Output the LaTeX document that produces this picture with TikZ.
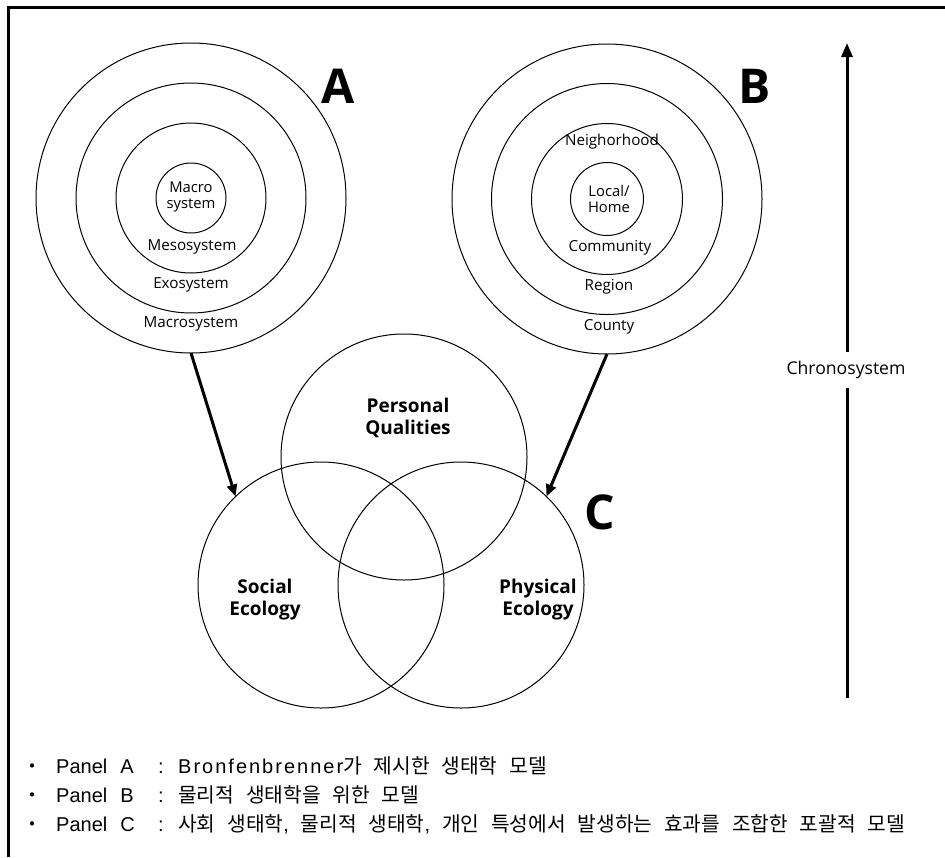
\documentclass[tikz,border=0pt]{standalone}
\usepackage{fontspec}
\setmainfont{Open Sans}
\newfontfamily\kr[WordSpace=2.6]{Noto Sans CJK KR}
\newfontfamily\lat{Liberation Sans}
\newfontfamily\latsp[LetterSpace=10]{Liberation Sans}
\usetikzlibrary{arrows.meta}
\newcommand{\latw}[1]{{\lat\fontsize{20}{20}\selectfont #1}}
\newcommand{\latwide}[1]{{\latsp\fontsize{20}{20}\selectfont #1}}
\begin{document}
\begin{tikzpicture}[x=1pt,y=-1pt,
  ring/.style={circle,draw,line width=1pt,inner sep=0pt,outer sep=0pt,minimum size=#1},
  lbl/.style={font=\fontsize{15.2}{16}\selectfont,inner sep=0pt},
  inlbl/.style={font=\fontsize{14.8}{15.5}\selectfont,inner sep=0pt,align=center},
  big/.style={font=\fontsize{19}{22}\selectfont\bfseries,align=center,inner sep=0pt},
  letter/.style={font=\fontsize{48}{50}\selectfont\bfseries,inner sep=0pt},
  conn/.style={line width=3pt,-{Triangle[length=12pt,width=10pt]}},
  krtext/.style={font=\kr\fontsize{20.3}{22}\selectfont,inner sep=0pt,anchor=base west},
  lattext/.style={font=\lat\fontsize{20}{20}\selectfont,inner sep=0pt}
]
\useasboundingbox (0,0) rectangle (945,857);
% frame
\draw[line width=3pt] (8,857) -- (8,7) -- (945,7);
% Panel A
\node[ring=310pt] (a4) at (191,198) {};
\node[ring=230pt] (a3) at (191,198) {};
\node[ring=150pt] (a2) at (191,198) {};
\node[ring=70pt]  (a1) at (191,198) {};
\node[inlbl] (la1) at (191,197) {Macro\\system};
\node[lbl] (la2) at (192,247) {Mesosystem};
\node[lbl] (la3) at (191,285) {Exosystem};
\node[lbl] (la4) at (191,324) {Macrosystem};
\node[letter] (A) at (338,86) {A};
% Panel B
\node[ring=310pt] (b4) at (607,199) {};
\node[ring=231pt] (b3) at (607,199) {};
\node[ring=151pt] (b2) at (607,199) {};
\node[ring=73pt]  (b1) at (607,199) {};
\node[lbl] (lb0) at (612,142) {Neighorhood};
\node[inlbl] (lb1) at (609,199) {Local/\\Home};
\node[lbl] (lb2) at (610,248) {Community};
\node[lbl] (lb3) at (609,287) {Region};
\node[lbl] (lb4) at (609,327) {County};
\node[letter] (B) at (755,86) {B};
% Panel C
\node[ring=246pt] (pq) at (404,457) {};
\node[ring=246pt] (soc) at (321,585) {};
\node[ring=246pt] (phy) at (461,585) {};
\node[big] (lpq) at (408,418) {Personal\\Qualities};
\node[big] (lsoc) at (265,600) {Social\\Ecology};
\node[big] (lphy) at (538,600) {Physical\\Ecology};
\node[letter] (C) at (600,512) {C};
% arrows
\draw[conn] (a4.south) -- (soc.134);
\draw[conn] (b4.south) -- (phy.46);
% chronosystem
\node[font=\fontsize{17.6}{18}\selectfont,inner sep=0pt,minimum height=36pt] (chr) at (846,370) {Chronosystem};
\coordinate (ctop) at (847,43);
\coordinate (cbot) at (847,698);
\draw[line width=3pt] (chr.south -| cbot) -- (cbot);
\draw[line width=3pt,-{Triangle[length=14pt,width=11pt]}] (chr.north -| ctop) -- (ctop);
% notes
\foreach \y/\p/\t in {773/A/{\latwide{Bronfenbrenner}가 제시한 생태학 모델},
                      802/B/{물리적 생태학을 위한 모델},
                      831/C/{사회 생태학\latw{,} 물리적 생태학\latw{,} 개인 특성에서 발생하는 효과를 조합한 포괄적 모델}}{
  \node[font=\kr\fontsize{20}{20}\selectfont,inner sep=0pt,anchor=base] at (33,\y) {・};
  \node[lattext,anchor=base west] at (56,\y) {Panel\hspace{13pt}\p};
  \node[lattext,anchor=base] at (161,\y) {:};
  \node[krtext] at (178,\y) {\t};
}
\end{tikzpicture}
\end{document}
